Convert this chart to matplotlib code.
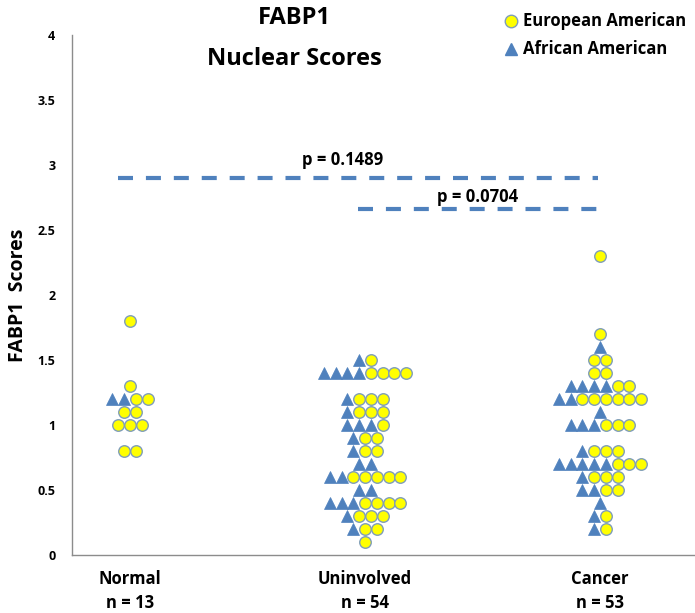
import matplotlib
matplotlib.use("Agg")
from matplotlib import pyplot as plt
from matplotlib.lines import Line2D
import numpy as np

plt.rcParams['font.family'] = ['Open Sans', 'DejaVu Sans']
plt.rcParams['font.weight'] = 'bold'

# groups and counts per score level (aa = African American, ea = European American)
groups = ['Normal', 'Uninvolved', 'Cancer']
group_n = [13, 54, 53]

normal_y = [1.8, 1.3, 1.2, 1.1, 1.0, 0.8]
normal_aa = [0, 0, 2, 0, 0, 0]
normal_ea = [1, 1, 2, 2, 3, 2]

uninv_y = [1.5, 1.4, 1.2, 1.1, 1.0, 0.9, 0.8, 0.7, 0.6, 0.5, 0.4, 0.3, 0.2, 0.1]
uninv_aa = [1, 4, 1, 1, 3, 1, 1, 2, 2, 2, 3, 1, 1, 0]
uninv_ea = [1, 4, 3, 3, 1, 2, 2, 0, 5, 0, 4, 3, 2, 1]

cancer_y = [2.3, 1.7, 1.6, 1.5, 1.4, 1.3, 1.2, 1.1, 1.0, 0.8, 0.7, 0.6, 0.5, 0.4, 0.3, 0.2]
cancer_aa = [0, 0, 1, 0, 0, 4, 2, 1, 3, 1, 5, 1, 2, 1, 1, 1]
cancer_ea = [1, 1, 0, 2, 2, 2, 6, 0, 3, 3, 3, 3, 2, 0, 1, 1]

# p-value brackets
p_labels = ['p = 0.1489', 'p = 0.0704']
p_start = [-0.05, 0.97]
p_end = [1.99, 1.99]
p_height = [2.9, 2.66]

blue = '#4F81BD'
yellow = '#FFFF00'
edge = '#7F9DB9'
step = 0.05

fig = plt.figure(figsize=(6.95, 6.13), dpi=100)
ax = fig.add_axes([72/695, 58/613, 623/695, 520/613])

data = [(normal_y, normal_aa, normal_ea),
        (uninv_y, uninv_aa, uninv_ea),
        (cancer_y, cancer_aa, cancer_ea)]

for gi, (ys, aas, eas) in enumerate(data):
    tx, ty, cx, cy = [], [], [], []
    for y, a, e in zip(ys, aas, eas):
        k = a + e
        offs = (np.arange(k) - (k - 1) / 2) * step
        for j in range(k):
            if j < a:
                tx.append(gi + offs[j]); ty.append(y)
            else:
                cx.append(gi + offs[j]); cy.append(y)
    ax.plot(tx, ty, linestyle='none', marker='^', ms=9, color=blue, mec=blue, mew=0.5, zorder=3)
    ax.plot(cx, cy, linestyle='none', marker='o', ms=8.3, mfc=yellow, mec=edge, mew=1, zorder=4)

for x0, x1, h in zip(p_start, p_end, p_height):
    ax.plot([x0, x1], [h, h], color=blue, lw=3, linestyle=(0, (3.6, 3.1)), solid_capstyle='butt', zorder=2)
ax.text(0.906, 3.04, p_labels[0], ha='center', va='center', fontsize=12, fontweight='bold')
ax.text(1.477, 2.75, p_labels[1], ha='center', va='center', fontsize=12, fontweight='bold')

ax.set_xlim(-0.2468, 2.404)
ax.set_ylim(0, 4)
ax.set_yticks(np.arange(0, 4.01, 0.5))
ax.set_yticklabels(['0', '0.5', '1', '1.5', '2', '2.5', '3', '3.5', '4'], fontsize=9, fontweight='bold')
ax.tick_params(axis='y', length=0, pad=12)
ax.set_xticks(range(len(groups)))
ax.set_xticklabels([g + '\nn = ' + str(n) for g, n in zip(groups, group_n)],
                   fontsize=12, fontweight='bold', linespacing=1.4)
ax.tick_params(axis='x', length=0, pad=11)
ax.set_ylabel('FABP1  Scores', fontsize=14, fontweight='bold')
ax.yaxis.set_label_coords(-0.07, 0.5)

for s in ['top', 'right']:
    ax.spines[s].set_visible(False)
for s in ['left', 'bottom']:
    ax.spines[s].set_color('#8C8C8C')
    ax.spines[s].set_linewidth(1)

fig.text(294/695, 1 - 18/613, 'FABP1', ha='center', va='center', fontsize=17, fontweight='bold')
fig.text(294/695, 1 - 59/613, 'Nuclear Scores', ha='center', va='center', fontsize=17, fontweight='bold')

handles = [Line2D([], [], linestyle='none', marker='o', ms=9, mfc=yellow, mec=edge, mew=1),
           Line2D([], [], linestyle='none', marker='^', ms=9, color=blue)]
fig.legend(handles, ['European American', 'African American'], loc='upper left',
           bbox_to_anchor=(496/695, 1 - 4/613), frameon=False, handlelength=0.8,
           handletextpad=0.3, labelspacing=0.6, borderpad=0,
           prop={'family': ['Open Sans', 'DejaVu Sans'], 'weight': 'bold', 'size': 12})

fig.savefig('out.png', dpi=100)
